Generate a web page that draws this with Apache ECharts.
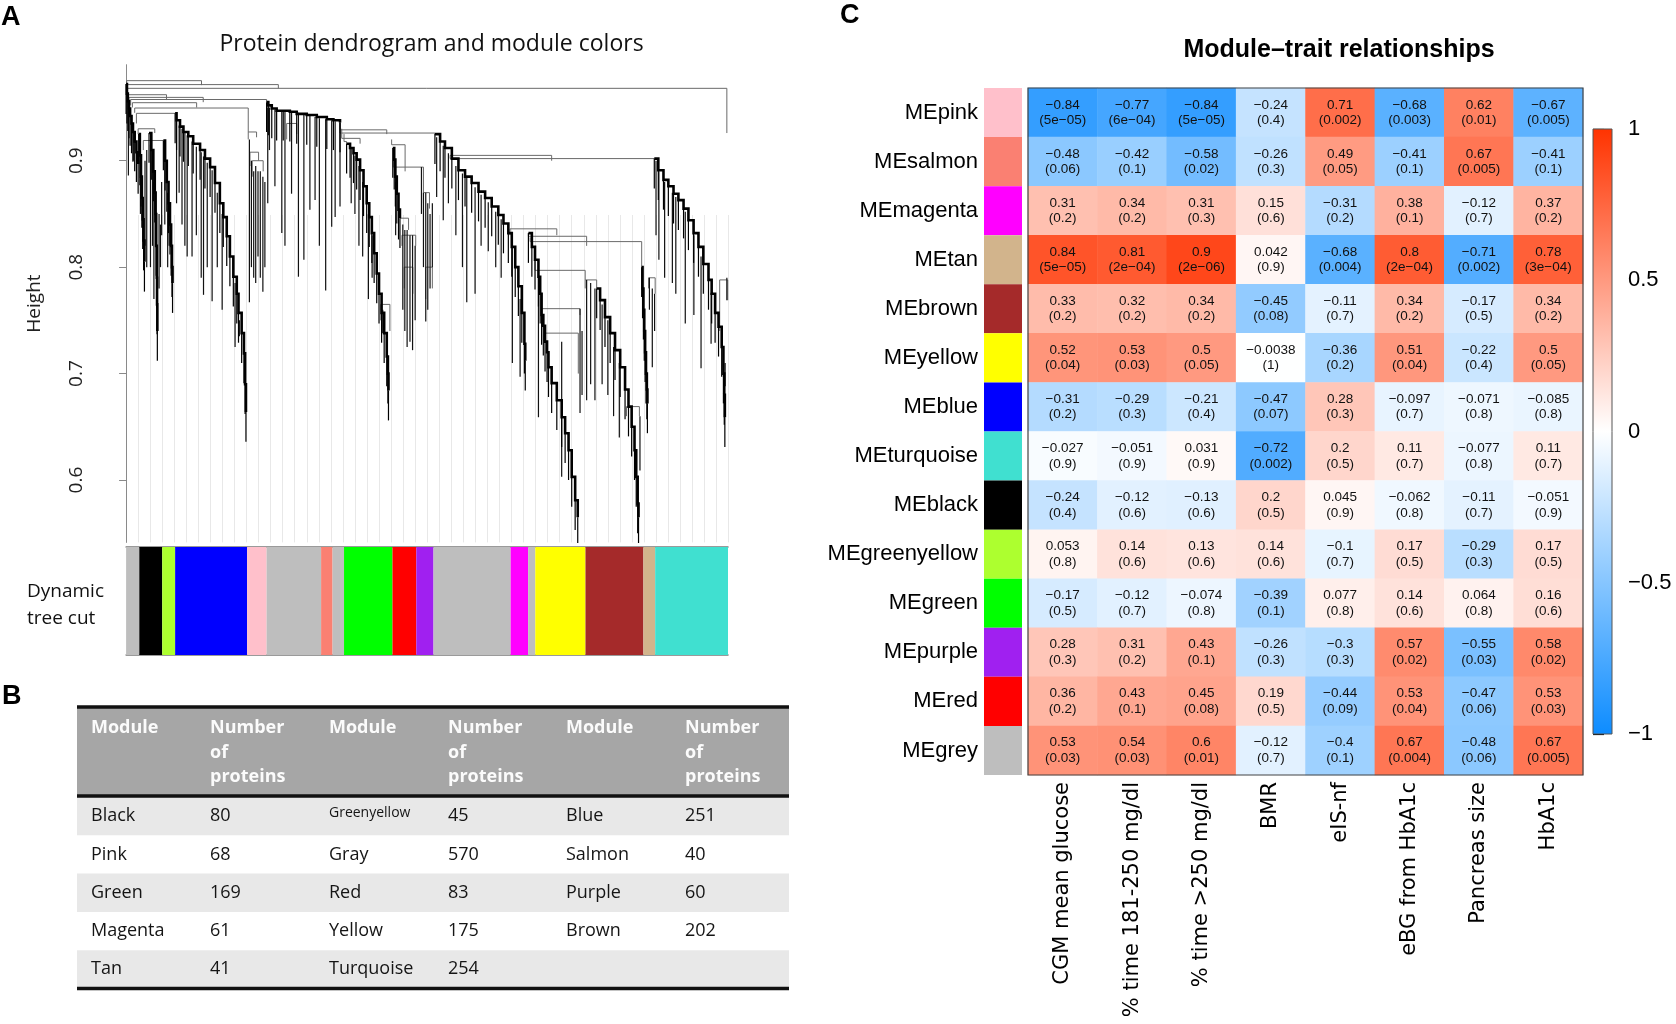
<!DOCTYPE html>
<html><head><meta charset="utf-8">
<script src="https://cdn.jsdelivr.net/npm/echarts@6/dist/echarts.min.js"></script>
<style>html,body{margin:0;padding:0;background:#fff}#c{width:1676px;height:1024px}</style>
</head><body><div id="c"></div>
<script>
// ---------------- Panel A : dendrogram data (leaf index, height) ----------------
const dendroLinks = [ // [leafA, leafB, height, bottomA, bottomB]
  [2,2095,0.968,0.968,0.926],[2,263,0.9752,0.968,0.971],[2,531,0.9715,0.968,0.968],
  [6,141,0.962,0.958,0.957],[10,269,0.9595,0.955,0.955],[16,490,0.9575,0.952,0.955],
  [22,246,0.9545,0.950,0.950],[30,426,0.9495,0.945,0.927],[36,171,0.9445,0.935,0.9445],
  [42,100,0.930,0.925,0.926],[60,130,0.919,0.91,0.919],
  [426,455,0.927,0.92,0.922],[432,462,0.908,0.895,0.90],[440,478,0.90,0.885,0.89],
  [560,595,0.935,0.92,0.925],
  [746,909,0.929,0.936,0.925],[746,1077,0.926,0.936,0.925],[752,816,0.921,0.93,0.916],[760,769,0.918,0.925,0.916],
  [888,920,0.765,0.75,0.74],
  [926,973,0.915,0.92,0.89],[932,1037,0.894,0.90,0.87],[955,985,0.846,0.846,0.835],
  [962,1010,0.830,0.82,0.82],[970,1000,0.80,0.78,0.775],
  [1037,1058,0.87,0.86,0.855],[1045,1068,0.80,0.77,0.78],
  [1130,1842,0.902,0.904,0.902],[1130,1484,0.905,0.904,0.90],[2070,2098,0.788,0.74,0.769],
  [1339,1502,0.836,0.83,0.83],[1403,1606,0.829,0.832,0.82],[1409,1798,0.824,0.828,0.80],
  [1426,1601,0.797,0.807,0.788],[1449,1583,0.761,0.77,0.755],[1461,1577,0.738,0.74,0.70],
  [1601,1641,0.788,0.78,0.78],[1745,1790,0.669,0.66,0.66],[1822,1845,0.79,0.78,0.775]
];
const dendroChains = [ // descending cascades: [leaf, height]
  [[0,0.972],[3,0.963],[6,0.956],[10,0.949],[14,0.942],[19,0.935],[24,0.927],[30,0.918],[36,0.908],[42,0.897]],
  [[44,0.925],[48,0.905],[52,0.885],[55,0.865],[58,0.845],[61,0.825],[64,0.805]],
  [[80,0.926],[88,0.91],[95,0.89],[100,0.87],[103,0.85],[105,0.82],[107,0.79],[108,0.765],[109,0.74]],
  [[130,0.919],[136,0.90],[142,0.88],[148,0.86],[153,0.84],[157,0.82],[160,0.80],[162,0.785]],
  [[171,0.9445],[176,0.938],[188,0.932],[200,0.927],[217,0.923],[234,0.916],[258,0.910],[275,0.902],[293,0.894],[310,0.879],[327,0.860],[339,0.847],[351,0.829],[362,0.810],[374,0.791],[386,0.775],[392,0.757],[403,0.738],[411,0.719],[415,0.69],[418,0.664]],
  [[490,0.955],[496,0.952],[508,0.949],[525,0.947],[548,0.947],[571,0.946],[595,0.944],[630,0.943],[665,0.941],[700,0.939],[723,0.938],[746,0.936]],
  [[769,0.916],[781,0.912],[793,0.907],[804,0.901],[816,0.891],[828,0.876],[839,0.860],[848,0.847],[857,0.832],[865,0.813],[874,0.794],[882,0.775],[891,0.757],[900,0.738],[909,0.716],[913,0.70],[915,0.684]],
  [[930,0.912],[935,0.901],[939,0.885],[944,0.869],[950,0.854],[955,0.846]],
  [[1077,0.925],[1095,0.918],[1112,0.912],[1136,0.902],[1159,0.891],[1182,0.885],[1205,0.879],[1229,0.871],[1252,0.865],[1275,0.857],[1298,0.849],[1316,0.841],[1333,0.832],[1345,0.819],[1357,0.800],[1368,0.782],[1380,0.757],[1389,0.728],[1392,0.712]],
  [[1403,0.832],[1415,0.819],[1426,0.807],[1438,0.791],[1444,0.775],[1449,0.755],[1455,0.745],[1461,0.73],[1468,0.72],[1473,0.706],[1484,0.691],[1502,0.675],[1519,0.659],[1531,0.644],[1543,0.628],[1554,0.603],[1566,0.581],[1575,0.565]],
  [[1641,0.780],[1653,0.769],[1670,0.753],[1688,0.738],[1705,0.722],[1723,0.706],[1740,0.685],[1752,0.669],[1763,0.650],[1773,0.628],[1779,0.603],[1784,0.578],[1787,0.565]],
  [[1798,0.80],[1801,0.78],[1804,0.76],[1807,0.74],[1810,0.72],[1813,0.70],[1816,0.685],[1818,0.672]],
  [[1842,0.902],[1856,0.891],[1874,0.882],[1891,0.876],[1909,0.869],[1926,0.863],[1944,0.855],[1961,0.844],[1979,0.832],[1996,0.819],[2013,0.803],[2031,0.788],[2042,0.775],[2054,0.757],[2066,0.744],[2077,0.725],[2083,0.70],[2086,0.68],[2088,0.659]]
];
const dendroTips = [ // [leaf, top, bottom]
  [8,0.955,0.886],[25,0.93,0.90],
  [50,0.90,0.85],[66,0.90,0.82],[72,0.91,0.80],[85,0.915,0.80],[92,0.90,0.82],[97,0.88,0.77],[115,0.85,0.78],[120,0.84,0.80],[124,0.88,0.83],
  [135,0.905,0.84],[145,0.87,0.80],[150,0.86,0.82],
  [176,0.938,0.86],[185,0.933,0.87],[195,0.93,0.84],[205,0.926,0.82],[213,0.924,0.81],[230,0.918,0.81],[245,0.913,0.83],[262,0.908,0.79],[270,0.904,0.774],[283,0.898,0.80],[300,0.891,0.768],[318,0.87,0.80],[335,0.85,0.76],[380,0.785,0.725],[395,0.75,0.735],
  [430,0.92,0.767],[437,0.90,0.80],[445,0.89,0.79],[452,0.895,0.785],[460,0.89,0.81],[468,0.89,0.79],[477,0.885,0.777],[484,0.88,0.80],
  [494,0.95,0.86],[500,0.95,0.91],[519,0.948,0.876],[543,0.947,0.832],[554,0.947,0.82],[577,0.946,0.869],[601,0.945,0.791],[620,0.943,0.807],[641,0.942,0.854],[659,0.941,0.863],[674,0.94,0.82],[696,0.939,0.778],[717,0.938,0.838],[729,0.937,0.847],[746,0.936,0.857],
  [785,0.912,0.86],[798,0.905,0.85],[812,0.895,0.82],[825,0.88,0.81],[845,0.85,0.77],[858,0.83,0.79],[895,0.76,0.738],
  [940,0.88,0.83],[965,0.84,0.76],[972,0.835,0.74],[980,0.835,0.725],[990,0.83,0.73],[999,0.83,0.722],[1008,0.82,0.75],
  [1030,0.894,0.85],[1037,0.87,0.80],[1045,0.87,0.749],[1052,0.86,0.76],[1060,0.85,0.78],[1068,0.86,0.80],
  [1083,0.922,0.866],[1106,0.914,0.844],[1124,0.907,0.86],[1150,0.895,0.83],[1173,0.888,0.80],[1188,0.884,0.767],[1217,0.875,0.775],[1238,0.868,0.82],[1263,0.861,0.815],[1289,0.852,0.80],[1308,0.845,0.79],[1347,0.818,0.71],[1374,0.77,0.697],
  [1438,0.79,0.659],[1519,0.73,0.603],[1583,0.761,0.663],[1590,0.74,0.68],
  [1606,0.788,0.675],[1620,0.785,0.69],[1635,0.78,0.675],[1660,0.765,0.69],[1680,0.75,0.68],[1700,0.725,0.66],[1720,0.71,0.64],[1792,0.66,0.609],
  [1825,0.79,0.76],[1835,0.78,0.706],[1843,0.775,0.74],
  [1848,0.90,0.83],[1858,0.89,0.807],[1878,0.88,0.79],[1905,0.87,0.785],[1917,0.866,0.775],[1950,0.852,0.747],[1980,0.83,0.755],[2005,0.81,0.705],[2040,0.776,0.728],[2089,0.71,0.688],[2095,0.79,0.769]
];
const heightTicks = [0.6, 0.7, 0.8, 0.9];
// dynamic tree cut colour bar (order along leaves) and sizes
const cutModules = ['grey','black','greenyellow','blue','pink','grey','salmon','grey','green','red','purple','grey','magenta','grey','yellow','brown','tan','turquoise'];
const cutCounts  = [46,80,45,251,68,190,40,40,169,83,60,269,61,25,175,202,41,254];
const moduleColors = {grey:'#BEBEBE',black:'#000000',greenyellow:'#ADFF2F',blue:'#0000FF',pink:'#FFC0CB',salmon:'#FA8072',green:'#00FF00',red:'#FF0000',purple:'#A020F0',magenta:'#FF00FF',yellow:'#FFFF00',brown:'#A52A2A',tan:'#D2B48C',turquoise:'#40E0D0'};

// ---------------- Panel B : table ----------------
const tableHeader = ['Module','Number\nof\nproteins','Module','Number\nof\nproteins','Module','Number\nof\nproteins'];
const tableRows = [
  ['Black','80','Greenyellow','45','Blue','251'],
  ['Pink','68','Gray','570','Salmon','40'],
  ['Green','169','Red','83','Purple','60'],
  ['Magenta','61','Yellow','175','Brown','202'],
  ['Tan','41','Turquoise','254','','']
];

// ---------------- Panel C : module-trait heatmap ----------------
const modules = ['MEpink','MEsalmon','MEmagenta','MEtan','MEbrown','MEyellow','MEblue','MEturquoise','MEblack','MEgreenyellow','MEgreen','MEpurple','MEred','MEgrey'];
const moduleStrip = ['pink','salmon','magenta','tan','brown','yellow','blue','turquoise','black','greenyellow','green','purple','red','grey'];
const traits = ['CGM mean glucose','% time 181-250 mg/dl','% time >250 mg/dl','BMR','eIS-nf','eBG from HbA1c','Pancreas size','HbA1c'];
const corrPink        = [-0.84,-0.77,-0.84,-0.24,0.71,-0.68,0.62,-0.67];
const corrSalmon      = [-0.48,-0.42,-0.58,-0.26,0.49,-0.41,0.67,-0.41];
const corrMagenta     = [0.31,0.34,0.31,0.15,-0.31,0.38,-0.12,0.37];
const corrTan         = [0.84,0.81,0.9,0.042,-0.68,0.8,-0.71,0.78];
const corrBrown       = [0.33,0.32,0.34,-0.45,-0.11,0.34,-0.17,0.34];
const corrYellow      = [0.52,0.53,0.5,-0.0038,-0.36,0.51,-0.22,0.5];
const corrBlue        = [-0.31,-0.29,-0.21,-0.47,0.28,-0.097,-0.071,-0.085];
const corrTurquoise   = [-0.027,-0.051,0.031,-0.72,0.2,0.11,-0.077,0.11];
const corrBlack       = [-0.24,-0.12,-0.13,0.2,0.045,-0.062,-0.11,-0.051];
const corrGreenyellow = [0.053,0.14,0.13,0.14,-0.1,0.17,-0.29,0.17];
const corrGreen       = [-0.17,-0.12,-0.074,-0.39,0.077,0.14,0.064,0.16];
const corrPurple      = [0.28,0.31,0.43,-0.26,-0.3,0.57,-0.55,0.58];
const corrRed         = [0.36,0.43,0.45,0.19,-0.44,0.53,-0.47,0.53];
const corrGrey        = [0.53,0.54,0.6,-0.12,-0.4,0.67,-0.48,0.67];
const pPink        = ['5e-05','6e-04','5e-05','0.4','0.002','0.003','0.01','0.005'];
const pSalmon      = ['0.06','0.1','0.02','0.3','0.05','0.1','0.005','0.1'];
const pMagenta     = ['0.2','0.2','0.3','0.6','0.2','0.1','0.7','0.2'];
const pTan         = ['5e-05','2e-04','2e-06','0.9','0.004','2e-04','0.002','3e-04'];
const pBrown       = ['0.2','0.2','0.2','0.08','0.7','0.2','0.5','0.2'];
const pYellow      = ['0.04','0.03','0.05','1','0.2','0.04','0.4','0.05'];
const pBlue        = ['0.2','0.3','0.4','0.07','0.3','0.7','0.8','0.8'];
const pTurquoise   = ['0.9','0.9','0.9','0.002','0.5','0.7','0.8','0.7'];
const pBlack       = ['0.4','0.6','0.6','0.5','0.9','0.8','0.7','0.9'];
const pGreenyellow = ['0.8','0.6','0.6','0.6','0.7','0.5','0.3','0.5'];
const pGreen       = ['0.5','0.7','0.8','0.1','0.8','0.6','0.8','0.6'];
const pPurple      = ['0.3','0.2','0.1','0.3','0.3','0.02','0.03','0.02'];
const pRed         = ['0.2','0.1','0.08','0.5','0.09','0.04','0.06','0.03'];
const pGrey        = ['0.03','0.03','0.01','0.7','0.1','0.004','0.06','0.005'];
const colorScaleTicks = [-1, -0.5, 0, 0.5, 1];
const colorScale = ['#0D8CFF', '#FFFFFF', '#FF3300']; // -1 .. 0 .. 1

// ---------------- build ----------------
const corr = [corrPink,corrSalmon,corrMagenta,corrTan,corrBrown,corrYellow,corrBlue,corrTurquoise,corrBlack,corrGreenyellow,corrGreen,corrPurple,corrRed,corrGrey];
const pv = [pPink,pSalmon,pMagenta,pTan,pBrown,pYellow,pBlue,pTurquoise,pBlack,pGreenyellow,pGreen,pPurple,pRed,pGrey];
const minus = s => String(s).replace(/-/g, '\u2212');
const heatData = [];
corr.forEach((row, j) => row.forEach((v, i) => heatData.push([i, j, v])));

const HANG = 0.028;
const linkLines = dendroLinks.map(([a,b,h,ba,bb]) => ({coords: [[a,ba],[a,h],[b,h],[b,bb]]}));
const tipLines = dendroTips.map(([x,t,b]) => ({coords: [[x,t],[x,b]]}));
const chainLines = dendroChains.map(ch => {
  const pts = [ch[0]];
  for (let k = 1; k < ch.length; k++) { pts.push([ch[k][0], ch[k-1][1]]); pts.push(ch[k]); }
  return {coords: pts};
});
const whiskerLines = [];
dendroChains.forEach(ch => ch.forEach(([x,h]) => whiskerLines.push({coords: [[x,h],[x,h-HANG]]})));

const cutSegs = [];
let acc = 0;
cutModules.forEach((m, k) => { cutSegs.push([acc, acc + cutCounts[k], k]); acc += cutCounts[k]; });
const totalLeaves = acc;

const chart = echarts.init(document.getElementById('c'), null, {renderer: 'canvas'});

// table graphics
const tX0 = 77, tW = 712, colX = [91,210,329,448,566,685];
const hdrTop = 707, hdrH = 88, rowTop = 797, rowH = 38.3;
const tbl = [];
tbl.push({type:'rect', shape:{x:tX0, y:hdrTop, width:tW, height:hdrH+2}, style:{fill:'#a6a6a6'}});
tableRows.forEach((r, i) => { if (i % 2 === 0) tbl.push({type:'rect', shape:{x:tX0, y:rowTop + i*rowH, width:tW, height:rowH}, style:{fill:'#e8e8e8'}}); });
[hdrTop, rowTop - 1, rowTop + tableRows.length*rowH].forEach(y => tbl.push({type:'line', shape:{x1:tX0, y1:y, x2:tX0+tW, y2:y}, style:{stroke:'#111', lineWidth:3.5}}));
tableHeader.forEach((h, c) => h.split('\n').forEach((ln, k) => tbl.push({type:'text', x:colX[c], y:728 + k*24.5, style:{text:ln, fill:'#fbfbfb', font:'bold 18px "Open Sans"', textVerticalAlign:'middle'}})));
tableRows.forEach((r, i) => r.forEach((t, c) => tbl.push({type:'text', x:colX[c], y:rowTop + (i+0.5)*rowH + (t === 'Greenyellow' ? -3 : 0), style:{text:t, fill:'#151515', font:(t === 'Greenyellow' ? '14px' : '18px') + ' "Open Sans"', textVerticalAlign:'middle'}})));

const texts = [
  {type:'text', x:1, y:18, style:{text:'A', font:'bold 27px "Liberation Sans"', fill:'#000', textVerticalAlign:'middle'}},
  {type:'text', x:2, y:697, style:{text:'B', font:'bold 27px "Liberation Sans"', fill:'#000', textVerticalAlign:'middle'}},
  {type:'text', x:840, y:16, style:{text:'C', font:'bold 27px "Liberation Sans"', fill:'#000', textVerticalAlign:'middle'}},
  {type:'text', x:431.5, y:44, style:{text:'Protein dendrogram and module colors', font:'23px "Open Sans"', fill:'#111', textAlign:'center', textVerticalAlign:'middle'}},
  {type:'text', x:27, y:592, style:{text:'Dynamic', font:'19px "Open Sans"', fill:'#111', textVerticalAlign:'middle'}},
  {type:'text', x:27, y:619, style:{text:'tree cut', font:'19px "Open Sans"', fill:'#111', textVerticalAlign:'middle'}},
  {type:'text', x:1339, y:50, style:{text:'Module\u2013trait relationships', font:'bold 25px "Liberation Sans"', fill:'#000', textAlign:'center', textVerticalAlign:'middle'}}
];

const option = {
  animation: false,
  backgroundColor: '#fff',
  graphic: texts.concat(tbl),
  grid: [
    {left:102, top:64.7, width:626, height:477.7},
    {left:126.1, top:215, width:601.9, height:327.4},
    {left:126.1, top:547, width:601.9, height:108},
    {left:984, top:88, width:38, height:687},
    {left:1028, top:88, width:555, height:687, show:true, borderColor:'#444', borderWidth:1.2, z:5},
    {left:1593, top:129, width:19, height:605}
  ],
  xAxis: [
    {gridIndex:0, type:'value', min:-84, max:totalLeaves, show:false},
    {gridIndex:1, type:'value', min:0, max:totalLeaves, interval:42, axisLine:{show:false}, axisTick:{show:false}, axisLabel:{show:false}, splitLine:{show:true, lineStyle:{color:'#e8e8e8', width:1}}},
    {gridIndex:2, type:'value', min:0, max:totalLeaves, position:'bottom', axisLine:{show:true, lineStyle:{color:'#7a7a7a', width:1.5}}, axisTick:{show:false}, axisLabel:{show:false}, splitLine:{show:false}},
    {gridIndex:3, type:'value', min:0, max:1, show:false},
    {gridIndex:4, type:'category', data:traits, position:'bottom', axisLine:{show:false}, axisTick:{show:false}, splitLine:{show:false},
      axisLabel:{interval:0, rotate:90, margin:7, fontSize:21, fontFamily:'DejaVu Sans', color:'#000'}},
    {gridIndex:5, type:'value', min:0, max:1, show:false},
    {gridIndex:2, type:'value', min:0, max:totalLeaves, position:'top', axisLine:{show:true, lineStyle:{color:'#7a7a7a', width:1.5}}, axisTick:{show:false}, axisLabel:{show:false}, splitLine:{show:false}}
  ],
  yAxis: [
    {gridIndex:0, type:'value', min:0.5414, max:0.9902, splitLine:{show:false},
      axisLine:{show:true, lineStyle:{color:'#8a8a8a', width:1}},
      axisTick:{show:true, customValues:heightTicks, length:7, lineStyle:{color:'#8a8a8a'}},
      axisLabel:{customValues:heightTicks, rotate:90, margin:16, fontSize:19, fontFamily:'Open Sans', color:'#222', formatter: v => v.toFixed(1)},
      name:'Height', nameLocation:'middle', nameGap:58, nameRotate:90, nameTextStyle:{fontSize:19, fontFamily:'Open Sans', color:'#222'}},
    {gridIndex:1, type:'value', min:0, max:1, show:false},
    {gridIndex:2, type:'value', min:0, max:1, show:false},
    {gridIndex:3, type:'category', data:modules, inverse:true, axisLine:{show:false}, axisTick:{show:false}, splitLine:{show:false},
      axisLabel:{margin:6, fontSize:22, fontFamily:'Liberation Sans', color:'#000'}},
    {gridIndex:4, type:'category', data:modules, inverse:true, show:false},
    {gridIndex:5, type:'value', min:-1, max:1, interval:0.5, position:'right', splitLine:{show:false},
      axisLine:{show:false}, axisTick:{show:true, length:11, lineStyle:{color:'#000', width:1.2}},
      axisLabel:{margin:16, fontSize:22, fontFamily:'Liberation Sans', color:'#000', formatter: v => minus(v)}}
  ],
  visualMap: {show:false, type:'continuous', min:-1, max:1, dimension:2, seriesIndex:6, inRange:{color:colorScale}},
  series: [
    {type:'lines', coordinateSystem:'cartesian2d', xAxisIndex:0, yAxisIndex:0, polyline:true, silent:true, z:3,
      lineStyle:{color:'#6a6a6a', width:1, opacity:1}, data:linkLines},
    {type:'lines', coordinateSystem:'cartesian2d', xAxisIndex:0, yAxisIndex:0, polyline:true, silent:true, z:3,
      lineStyle:{color:'#111', width:1.2, opacity:1}, data:tipLines},
    {type:'lines', coordinateSystem:'cartesian2d', xAxisIndex:0, yAxisIndex:0, polyline:true, silent:true, z:4,
      lineStyle:{color:'#000', width:2.6, opacity:1}, data:chainLines},
    {type:'lines', coordinateSystem:'cartesian2d', xAxisIndex:0, yAxisIndex:0, polyline:true, silent:true, z:4,
      lineStyle:{color:'#000', width:1.2, opacity:1}, data:whiskerLines},
    {type:'custom', xAxisIndex:2, yAxisIndex:2, silent:true, data:cutSegs,
      renderItem:(params, api) => {
        const p0 = api.coord([api.value(0), 1]), p1 = api.coord([api.value(1), 0]);
        return {type:'rect', shape:{x:p0[0], y:p0[1], width:p1[0]-p0[0], height:p1[1]-p0[1]},
          style:{fill: moduleColors[cutModules[api.value(2)]]}};
      }},
    {type:'bar', xAxisIndex:3, yAxisIndex:3, silent:true, barWidth:'100%', barCategoryGap:'0%',
      data: moduleStrip.map(m => ({value:1, itemStyle:{color:moduleColors[m]}}))},
    {type:'heatmap', xAxisIndex:4, yAxisIndex:4, silent:true, data:heatData,
      label:{show:true, color:'#111', fontSize:13.5, lineHeight:15.5, fontFamily:'Liberation Sans',
        formatter: p => minus(p.data[2]) + '\n(' + minus(pv[p.data[1]][p.data[0]]) + ')'}},
    {type:'custom', xAxisIndex:5, yAxisIndex:5, silent:true, data:[[0]],
      renderItem:(params, api) => {
        const p0 = api.coord([0, 1]), p1 = api.coord([1, -1]);
        return {type:'rect', shape:{x:p0[0], y:p0[1], width:p1[0]-p0[0], height:p1[1]-p0[1]},
          style:{fill: new echarts.graphic.LinearGradient(0,0,0,1,[{offset:0,color:colorScale[2]},{offset:0.5,color:colorScale[1]},{offset:1,color:colorScale[0]}]), stroke:'#555', lineWidth:1}};
      }}
  ]
};
chart.setOption(option);
</script></body></html>
